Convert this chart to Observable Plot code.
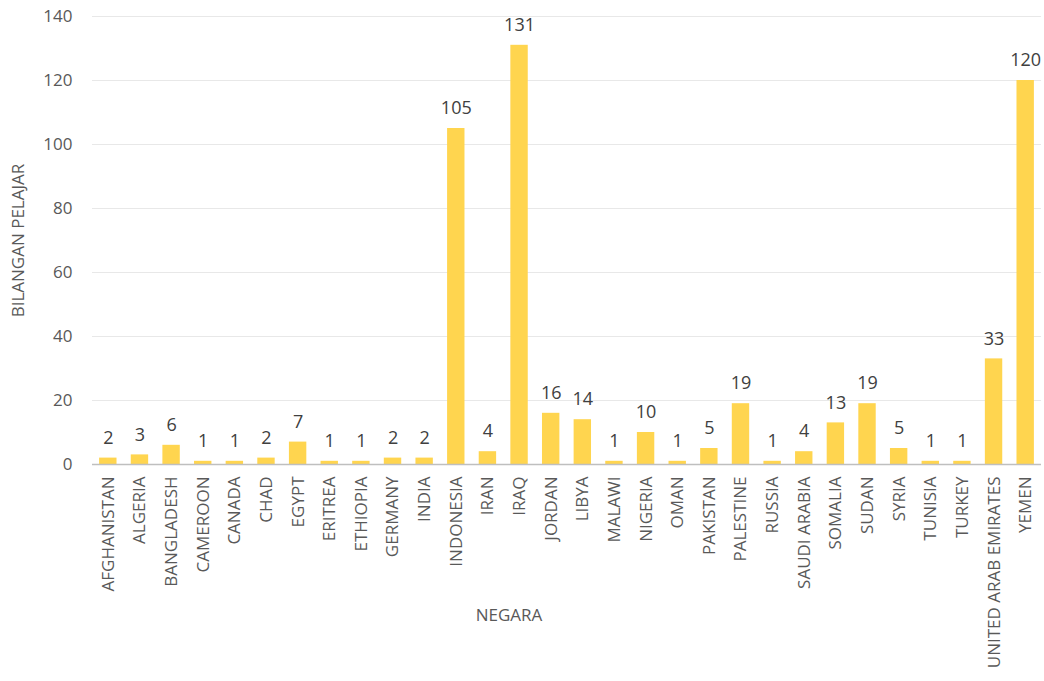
<!DOCTYPE html>
<html><head><meta charset="utf-8">
<script src="https://cdn.jsdelivr.net/npm/d3@7"></script>
<script src="https://cdn.jsdelivr.net/npm/@observablehq/plot@0.6"></script>
<style>body{margin:0;background:#fff;} svg{display:block;}</style>
</head><body><div id="chart"></div>
<script>
const countries = ["AFGHANISTAN","ALGERIA","BANGLADESH","CAMEROON","CANADA","CHAD","EGYPT","ERITREA","ETHIOPIA","GERMANY","INDIA","INDONESIA","IRAN","IRAQ","JORDAN","LIBYA","MALAWI","NIGERIA","OMAN","PAKISTAN","PALESTINE","RUSSIA","SAUDI ARABIA","SOMALIA","SUDAN","SYRIA","TUNISIA","TURKEY","UNITED ARAB EMIRATES","YEMEN"];
const students = [2,3,6,1,1,2,7,1,1,2,2,105,4,131,16,14,1,10,1,5,19,1,4,13,19,5,1,1,33,120];
const yTicks = [0,20,40,60,80,100,120,140];
const data = countries.map((c,i)=>({country:c, value:students[i]}));
const font = "'Open Sans', sans-serif";
const chart = Plot.plot({
  width:1044, height:681,
  marginTop:16, marginBottom:217, marginLeft:92, marginRight:3,
  style:{fontFamily:font, fontSize:"17px", color:"#595959", background:"#fff"},
  x:{domain:countries, paddingInner:0.45, paddingOuter:0.225, round:false, label:null, tickSize:0, tickRotate:-90},
  y:{domain:[0,140], ticks:yTicks, label:null, tickSize:0},
  marks:[
    Plot.gridY(yTicks, {stroke:"#d9d9d9", strokeOpacity:0.6}),
    Plot.barY(data, {x:"country", y:"value", fill:"#FFD54F"}),
    Plot.ruleY([0], {stroke:"#bfbfbf", strokeWidth:1.5}),
    Plot.text(data, {x:"country", y:"value", text:d=>String(d.value), dy:-20, fill:"#404040", fontSize:18}),
    Plot.axisY(yTicks, {tickSize:0, tickPadding:20, fontSize:17, fill:"#595959", label:null}),
    Plot.axisX({tickSize:0, tickPadding:12, tickRotate:-90, fontSize:17, fill:"#595959", label:null}),
    Plot.text(["BILANGAN PELAJAR"], {frameAnchor:"left", textAnchor:"middle", dx:-74, rotate:-90, fill:"#595959", fontSize:17}),
    Plot.text(["NEGARA"], {frameAnchor:"bottom", dy:156, dx:-58, fill:"#595959", fontSize:17})
  ]
});
document.getElementById("chart").append(chart);
</script></body></html>
